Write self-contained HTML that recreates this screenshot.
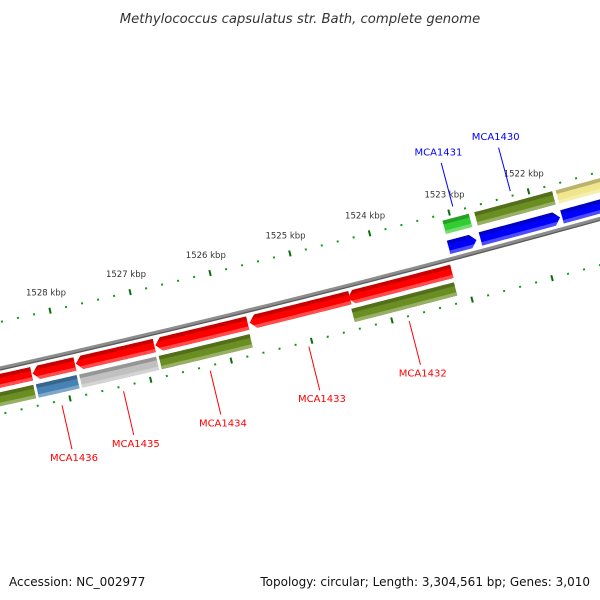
<!DOCTYPE html>
<html><head><meta charset="utf-8">
<style>
html,body{margin:0;padding:0;background:#fff;}
svg{display:block;font-family:"DejaVu Sans","Liberation Sans",sans-serif;}
</style></head>
<body>
<svg id="map" width="600" height="600" viewBox="0 0 600 600" xmlns="http://www.w3.org/2000/svg">
<rect width="600" height="600" fill="#fff"/>
<text x="300" y="23" text-anchor="middle" font-size="13.2" font-style="italic" fill="#333">Methylococcus capsulatus str. Bath, complete genome</text>
<g id="layer"></g>
<text x="9" y="586" font-size="12" fill="#111">Accession: NC_002977</text>
<text x="590" y="586" text-anchor="end" font-size="12" fill="#111">Topology: circular; Length: 3,304,561 bp; Genes: 3,010</text>
</svg>
<script>
const geneNames   = ["", "MCA1436", "MCA1435", "MCA1434", "MCA1433", "MCA1432", "MCA1431", "MCA1430", ""];
const geneStarts  = [1528388, 1527850, 1526863, 1525700, 1524425, 1523150, 1522763, 1521713, 1520400];
const geneEnds    = [1529900, 1528375, 1527838, 1526850, 1525675, 1524450, 1523113, 1522713, 1521688];
const geneStrands = [1, 1, 1, 1, 1, 1, -1, -1, -1];
const cogColors   = ["#6b8e23", "#4682b4", "#c0c0c0", "#6b8e23", "", "#6b8e23", "#32cd32", "#6b8e23", "#f0e68c"];
const tickStartBp = 1519000;
const tickEndBp   = 1531000;
const tickStepBp  = 200;

const NS = "http://www.w3.org/2000/svg";
const layer = document.getElementById("layer");
const R = 12000, CX = -2604, CY = -11346;
const phiRef = Math.atan2(298 - (-11342), 300 - CX);
const K = 0.0825 / R;
function phi(bp){ return phiRef + (bp - 1525000) * K; }
function pt(bp, r){ const a = phi(bp); return [CX + (R + r) * Math.cos(a), CY + (R + r) * Math.sin(a)]; }
function arcPts(b0, b1, r, n){ const out=[]; for(let i=0;i<=n;i++){ out.push(pt(b0+(b1-b0)*i/n, r)); } return out; }
function mk(tag, attrs){ const e=document.createElementNS(NS, tag); for(const k in attrs) e.setAttribute(k, attrs[k]); return e; }
function ptsStr(a){ return a.map(p=>p[0].toFixed(2)+","+p[1].toFixed(2)).join(" "); }
function band(b0,b1,r0,r1){ return arcPts(b0,b1,r0,20).concat(arcPts(b1,b0,r1,20)); }
function shade(hex, f){
  const n=parseInt(hex.slice(1),16); let r=n>>16,g=(n>>8)&255,b=n&255;
  if(f<0){ r=Math.round(r*(1+f)); g=Math.round(g*(1+f)); b=Math.round(b*(1+f)); }
  else { r=Math.round(r+(255-r)*f); g=Math.round(g+(255-g)*f); b=Math.round(b+(255-b)*f); }
  return "rgb("+r+","+g+","+b+")";
}
let clipId = 0;
function drawShape(poly, r0, r1, b0, b1, color, name){
  const id = "c" + (clipId++);
  const cp = mk("clipPath", {id:id});
  cp.appendChild(mk("polygon", {points: ptsStr(poly)}));
  layer.appendChild(cp);
  const g = mk("g", {"clip-path":"url(#"+id+")"});
  
  
  const h = r1 - r0;
  g.appendChild(mk("polygon", {points: ptsStr(band(b0-200,b1+200,r0-1,r1+1)), fill: color}));
  g.appendChild(mk("polygon", {points: ptsStr(band(b0-200,b1+200,r0-1,r0+h*0.28)), fill: shade(color,-0.22)}));
  g.appendChild(mk("polygon", {points: ptsStr(band(b0-200,b1+200,r1-h*0.25,r1+1)), fill: shade(color,0.3)}));
  layer.appendChild(g);
}

// backbone
const bb = mk("polyline", {points: ptsStr(arcPts(1518000, 1532000, 0, 60)), fill:"none", stroke:"#8c8c8c", "stroke-width":"3.2"});


layer.appendChild(bb);
const bbs = mk("polyline", {points: ptsStr(arcPts(1518000, 1532000, 1.9, 60)), fill:"none", stroke:"#5a5a5a", "stroke-width":"1.3"});


layer.appendChild(bbs);

// ticks
for (let bp = tickStartBp; bp <= tickEndBp; bp += tickStepBp) {
  const major = bp % 1000 === 0;
  [-45, 45].forEach(rc => {
    const len = major ? 6 : 2;
    const a = pt(bp, rc - len/2), b = pt(bp, rc + len/2);
    const t = mk("line", {x1:a[0], y1:a[1], x2:b[0], y2:b[1], stroke: major ? "#0a6e0a" : "#109a10", "stroke-width":"2"});
    
    
    layer.appendChild(t);
  });
  if (major) {
    const p = pt(bp, -63);
    if (p[0] > 20 && p[0] < 570) {
      const tx = mk("text", {x:p[0], y:p[1], "text-anchor":"middle", "dominant-baseline":"middle", "font-size":"8.5", fill:"#333"});
      tx.textContent = (bp/1000) + " kbp";
      
      
      layer.appendChild(tx);
    }
  }
}

// features
const headBp = 75;
for (let i = 0; i < geneNames.length; i++) {
  const s = geneStarts[i], e = geneEnds[i], d = geneStrands[i];
  const rc = d > 0 ? 12.5 : -11.5, hw = 6.8;
  const r0 = rc - hw, r1 = rc + hw;
  let poly;
  if (d > 0) {
    const hb = e - headBp;
    poly = arcPts(s, hb, r0, 20).concat([pt(e, rc)]).concat(arcPts(hb, s, r1, 20));
  } else {
    const hb = s + headBp;
    poly = [pt(s, rc)].concat(arcPts(hb, e, r0, 20)).concat(arcPts(e, hb, r1, 20));
  }
  drawShape(poly, r0, r1, s, e, d > 0 ? "#ff0000" : "#0000ff", "gene-" + (geneNames[i] || "unlabeled").toLowerCase());
  if (cogColors[i]) {
    const cc = d > 0 ? 30.5 : -32;
    const cr0 = cc - 6.8, cr1 = cc + 6.8;
    drawShape(band(s + 10, e - 10, cr0, cr1), cr0, cr1, s, e, cogColors[i], "cog-" + (geneNames[i] || "unlabeled").toLowerCase());
  }
  if (geneNames[i]) {
    const mid = (s + e) / 2, col = d > 0 ? "#ff0000" : "#0000ff";
    const a = pt(mid, d * 50), b = pt(mid, d * 95);
    const ln = mk("line", {x1:a[0], y1:a[1], x2:b[0], y2:b[1], stroke: col, "stroke-width":"1"});
    
    
    layer.appendChild(ln);
    const p = pt(mid, d > 0 ? 104 : -106);
    const tx = mk("text", {x:p[0], y:p[1], "text-anchor":"middle", "dominant-baseline":"middle", "font-size":"10", fill: col});
    tx.textContent = geneNames[i];
    
    
    layer.appendChild(tx);
  }
}
</script>
</body></html>
